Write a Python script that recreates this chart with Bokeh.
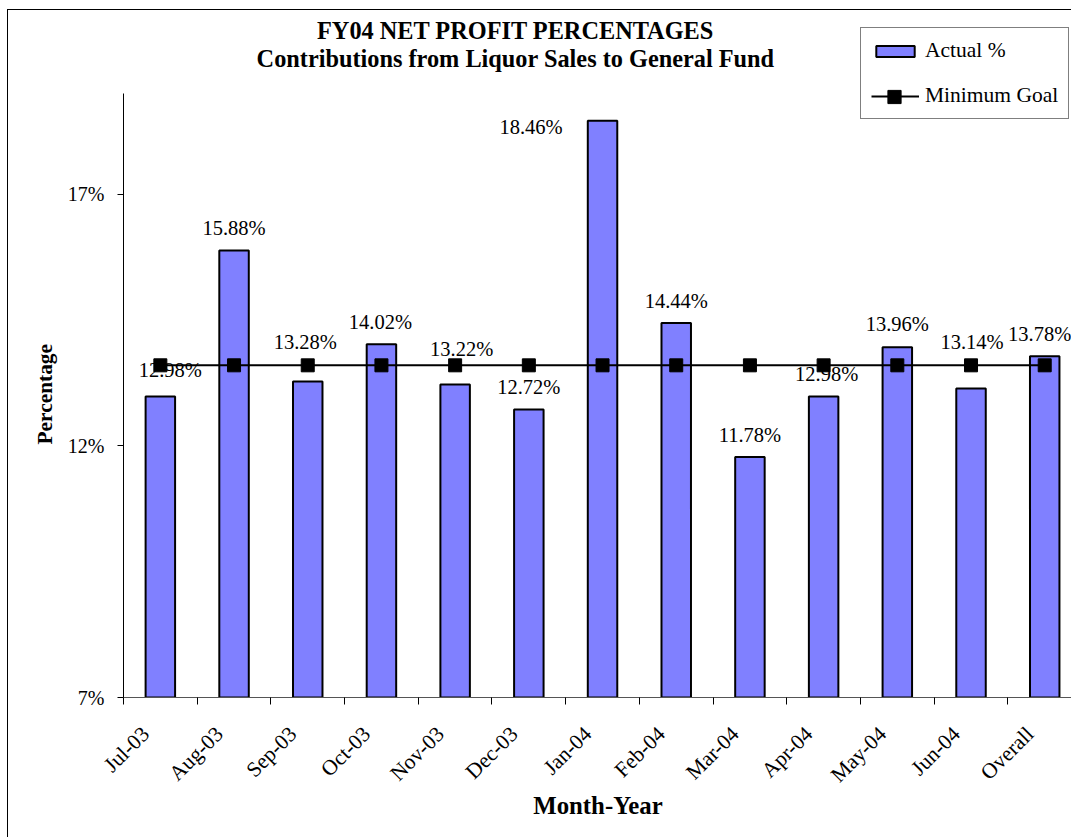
from bokeh.plotting import figure
from bokeh.models import (ColumnDataSource, Range1d, FixedTicker, Legend, LegendItem, Label, Title)
from bokeh.embed import file_html
from bokeh.resources import INLINE
import math

# ---- data ----
categories = ["Jul-03", "Aug-03", "Sep-03", "Oct-03", "Nov-03", "Dec-03", "Jan-04",
              "Feb-04", "Mar-04", "Apr-04", "May-04", "Jun-04", "Overall"]
actual_pct = [12.98, 15.88, 13.28, 14.02, 13.22, 12.72, 18.46,
              14.44, 11.78, 12.98, 13.96, 13.14, 13.78]
minimum_goal = [13.6, 13.6, 13.6, 13.6, 13.6, 13.6, 13.6,
                13.6, 13.6, 13.6, 13.6, 13.6, 13.6]
y_ticks = [7, 12, 17]
y_tick_labels = ["7%", "12%", "17%"]

# label nudges (pixels) to mimic the hand-placed labels of the original
label_raise = [26.7, 22.3, 39, 22, 35.6, 23, -6.7, 22, 22, 22.7, 23, 46, 22.6]
label_dx = [10, 0, -2.5, -1, 6.5, 0, -71.5, 0, 0, 3, 0, 1, -5]

FONT = "Liberation Serif"
Y_MIN, Y_MAX = 7, 19          # value axis extent
Y_TOP = 20.65                 # headroom above the axis for titles / legend
X_END = 12.877                # visible part of the category axis (chart is cut at right)
TICK_SHIFT = -0.2             # rotated category labels sit a bit left of the bar centre

centers = [i + 0.5 for i in range(len(categories))]
bounds = [float(i) for i in range(len(categories))]
label_pos = [c + TICK_SHIFT for c in centers]

src = ColumnDataSource(dict(
    x=centers, top=actual_pct, goal=minimum_goal,
    lbl=[f"{v:.2f}%" for v in actual_pct],
    dx=label_dx, dy=[-r for r in label_raise],
))

p = figure(width=1064, height=828, output_backend="svg", toolbar_location=None,
           x_range=Range1d(0, X_END), y_range=Range1d(Y_MIN, Y_TOP),
           min_border_left=115, min_border_right=0, min_border_top=0, min_border_bottom=141)
p.styles = {"margin-left": "7px", "margin-top": "9px",
            "border-left": "1px solid black", "border-top": "1px solid black"}
p.title = None
p.outline_line_color = None
p.xgrid.visible = False
p.ygrid.visible = False
p.background_fill_color = "white"
p.border_fill_color = "white"

bars = p.vbar(x="x", top="top", bottom=Y_MIN, width=0.4, source=src,
              fill_color="#8080FF", line_color="black", line_width=2)
gl = p.line(x="x", y="goal", source=src, line_color="black", line_width=2)
gm = p.scatter(x="x", y="goal", source=src, marker="square", size=13,
               fill_color="black", line_color="black")

p.text(x="x", y="top", text="lbl", source=src, x_offset="dx", y_offset="dy",
       text_align="center", text_baseline="middle",
       text_font=FONT, text_font_size="20.5px", text_color="black")

# x axis
xa = p.xaxis[0]
xa.ticker = FixedTicker(ticks=label_pos, minor_ticks=bounds)
xa.major_label_overrides = {c: lab for c, lab in zip(label_pos, categories)}
xa.major_label_orientation = math.pi / 4
xa.major_tick_line_color = None
xa.major_tick_out = 0
xa.major_tick_in = 0
xa.minor_tick_line_color = "black"
xa.minor_tick_out = 7
xa.minor_tick_in = 0
xa.major_label_standoff = 26
xa.major_label_text_font = FONT
xa.major_label_text_font_size = "21.5px"
xa.major_label_text_color = "black"
xa.axis_line_color = "#555555"
xa.axis_label = "Month-Year"
xa.axis_label_text_font = FONT
xa.axis_label_text_font_style = "bold"
xa.axis_label_text_font_size = "24.8px"
xa.axis_label_text_color = "black"
xa.axis_label_standoff = -7

# y axis
ya = p.yaxis[0]
ya.bounds = (Y_MIN, Y_MAX)
ya.ticker = FixedTicker(ticks=y_ticks, minor_ticks=[])
ya.major_label_overrides = {t: s for t, s in zip(y_ticks, y_tick_labels)}
ya.major_tick_out = 6
ya.major_tick_in = 0
ya.major_tick_line_color = "black"
ya.minor_tick_line_color = None
ya.major_label_standoff = 13
ya.major_label_text_font = FONT
ya.major_label_text_font_size = "20px"
ya.major_label_text_color = "black"
ya.axis_line_color = "black"
ya.axis_label = None

# y-axis title, placed alongside the value axis (which is shorter than the frame)
p.add_layout(Title(text="Percentage", align="left", offset=253, standoff=16,
                   text_font=FONT, text_font_style="bold", text_font_size="21.4px",
                   text_color="black"), "left")

# chart titles
for txt, yy in (("FY04 NET PROFIT PERCENTAGES", 20.252),
                ("Contributions from Liquor Sales to General Fund", 19.696)):
    p.add_layout(Label(x=5.32, y=yy, text=txt, text_align="center", text_baseline="middle",
                       text_font=FONT, text_font_style="bold", text_font_size="24.3px",
                       text_color="black"))

legend = Legend(items=[LegendItem(label="Actual %", renderers=[bars]),
                       LegendItem(label="Minimum Goal", renderers=[gl])],
                location=(737, 578), orientation="vertical")
legend.border_line_color = "black"
legend.border_line_width = 1
legend.background_fill_color = "white"
legend.background_fill_alpha = 1
legend.label_text_font = FONT
legend.label_text_font_size = "21.5px"
legend.label_text_color = "black"
legend.glyph_width = 48
legend.glyph_height = 14
legend.label_standoff = 6
legend.spacing = 20
legend.padding = 10
legend.margin = 0
p.add_layout(legend, "center")

# full-size square marker over the "Minimum Goal" legend line
marker_key = Legend(items=[LegendItem(label="", renderers=[gm])],
                    location=(747, 584), orientation="vertical")
marker_key.border_line_color = None
marker_key.background_fill_alpha = 0
marker_key.glyph_width = 48
marker_key.glyph_height = 33
marker_key.label_standoff = 0
marker_key.label_text_font_size = "1px"
marker_key.label_width = 1
marker_key.label_height = 1
marker_key.padding = 0
marker_key.margin = 0
marker_key.spacing = 0
p.add_layout(marker_key, "center")

open("out.html", "w").write(file_html(p, INLINE))
